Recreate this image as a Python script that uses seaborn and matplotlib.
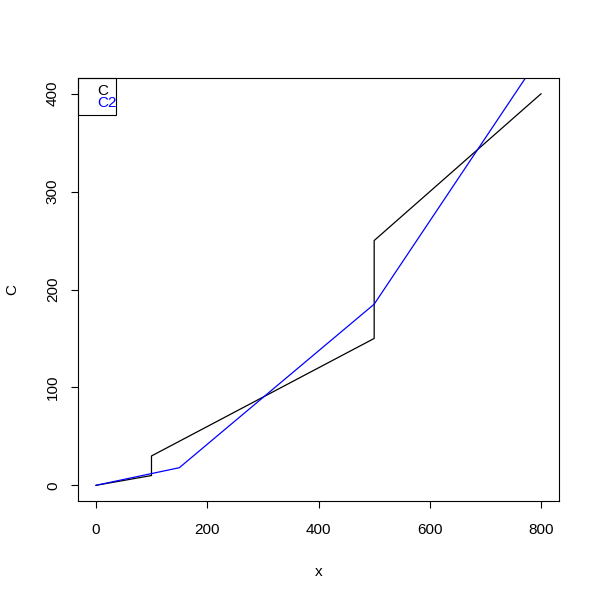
import matplotlib
matplotlib.use("Agg")
import matplotlib.pyplot as plt
import seaborn as sns
import pandas as pd
from matplotlib.patches import Rectangle

# Data
x_c = [0, 100, 100, 500, 500, 800]
c_vals = [0, 10, 30, 150, 250, 400]
x_c2 = [0, 150, 500, 800]
c2_vals = [0, 18, 185, 440]
x_ticks = [0, 200, 400, 600, 800]
y_ticks = [0, 100, 200, 300, 400]
legend_labels = ["C", "C2"]
colors = ["black", "blue"]

sns.set_style("white")
plt.rcParams['font.family'] = ['Liberation Sans', 'DejaVu Sans']
plt.rcParams['text.color'] = 'black'
plt.rcParams['axes.labelcolor'] = 'black'
plt.rcParams['xtick.color'] = 'black'
plt.rcParams['ytick.color'] = 'black'

fig = plt.figure(figsize=(6, 6), dpi=100)
ax = fig.add_axes([78/600, 1-501/600, (559-78)/600, (501-78)/600])

df1 = pd.DataFrame({"x": x_c, "y": c_vals})
df2 = pd.DataFrame({"x": x_c2, "y": c2_vals})
sns.lineplot(data=df1, x="x", y="y", sort=False, estimator=None, color=colors[0], lw=0.9, ax=ax)
sns.lineplot(data=df2, x="x", y="y", sort=False, estimator=None, color=colors[1], lw=0.9, ax=ax)

ax.set_xlim(-32, 832)
ax.set_ylim(-16, 416)
ax.set_xticks(x_ticks)
ax.set_yticks(y_ticks)
ax.set_xticklabels([str(t) for t in x_ticks], fontsize=11, color="black")
ax.set_yticklabels([str(t) for t in y_ticks], fontsize=11, rotation=90, va="center", color="black")
ax.tick_params(axis="both", direction="out", length=5, width=0.8, color="black",
               labelcolor="black", bottom=True, left=True)
ax.tick_params(axis="x", pad=11)
ax.tick_params(axis="y", pad=8)
for s in ax.spines.values():
    s.set_color("black")
    s.set_linewidth(0.8)
    s.set_visible(True)

ax.set_xlabel("x", fontsize=11, color="black")
ax.set_ylabel("C", fontsize=11, color="black")
ax.xaxis.set_label_coords(0.5, -(565-501)/423)
ax.yaxis.set_label_coords((19-78)/481, 0.5)

# Legend box (text only)
w = 38/481
h = 37/423
ax.add_patch(Rectangle((0, 1-h), w, h, transform=ax.transAxes, fill=False,
                       edgecolor="black", lw=0.8, clip_on=False, zorder=5))
ax.text(19/481, 1-13/423, legend_labels[0], transform=ax.transAxes, color=colors[0],
        fontsize=11, va="center", ha="left")
ax.text(19/481, 1-24.7/423, legend_labels[1], transform=ax.transAxes, color=colors[1],
        fontsize=11, va="center", ha="left")

fig.savefig("out.png", dpi=100)
